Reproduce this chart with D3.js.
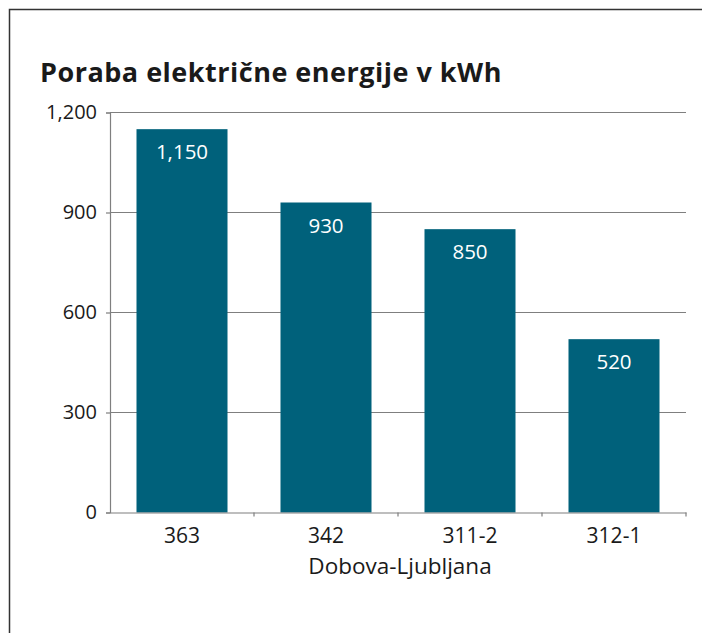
<!DOCTYPE html>
<html>
<head>
<meta charset="utf-8">
<script src="https://cdn.jsdelivr.net/npm/d3@7"></script>
<style>
  body { margin: 0; background: #fff; }
  svg text { font-family: "Open Sans", sans-serif; fill: #1a1a1a; }
</style>
</head>
<body>
<div id="chart"></div>
<script>
var categories = ["363", "342", "311-2", "312-1"];
var values = [1150, 930, 850, 520];
var yTicks = [0, 300, 600, 900, 1200];
var chartTitle = "Poraba električne energije v kWh";
var xTitle = "Dobova-Ljubljana";

var width = 702, height = 633;
var margin = { top: 112.5, right: 16, bottom: 120.5, left: 110 };

var svg = d3.select("#chart").append("svg")
    .attr("width", width)
    .attr("height", height);

// frame: only top and left edges show
svg.append("path")
    .attr("d", "M9.5," + height + "V9.5H" + width)
    .attr("fill", "none")
    .attr("stroke", "#333")
    .attr("stroke-width", 1.5);

var x = d3.scaleBand()
    .domain(categories)
    .range([margin.left, width - margin.right])
    .paddingInner(0.368)
    .paddingOuter(0.184);

var y = d3.scaleLinear()
    .domain([0, 1200])
    .range([height - margin.bottom, margin.top]);

var fmt = d3.format(",");

// gridlines
svg.append("g").selectAll("line")
    .data(yTicks.filter(function (d) { return d > 0; }))
    .enter().append("line")
    .attr("x1", margin.left)
    .attr("x2", width - margin.right)
    .attr("y1", function (d) { return y(d); })
    .attr("y2", function (d) { return y(d); })
    .attr("stroke", "#7f7f7f")
    .attr("stroke-width", 1.2);

// bars
svg.append("g").selectAll("rect")
    .data(values)
    .enter().append("rect")
    .attr("x", function (d, i) { return x(categories[i]); })
    .attr("y", function (d) { return y(d); })
    .attr("width", x.bandwidth())
    .attr("height", function (d) { return y(0) - y(d); })
    .attr("fill", "#00617b");

// value labels
svg.append("g").selectAll("text")
    .data(values)
    .enter().append("text")
    .attr("x", function (d, i) { return x(categories[i]) + x.bandwidth() / 2; })
    .attr("y", function (d) { return y(d) + 30; })
    .attr("text-anchor", "middle")
    .style("font-size", "20.5px")
    .style("fill", "#fff")
    .text(function (d) { return fmt(d); });

// y axis
var yAxis = svg.append("g")
    .attr("transform", "translate(" + margin.left + ",0)")
    .call(d3.axisLeft(y).tickValues(yTicks).tickFormat(fmt).tickSize(4).tickPadding(9));
yAxis.selectAll("text").style("font-size", "20px");

// x axis, ticks on the band edges
var xAxis = svg.append("g")
    .attr("transform", "translate(0," + y(0) + ")")
    .call(d3.axisBottom(x).tickSize(0).tickPadding(16));
xAxis.selectAll("text").style("font-size", "21px");
var edges = categories.map(function (c) { return x(c) - x.step() * x.paddingInner() / 2; });
edges.push(width - margin.right);
xAxis.selectAll(".edge").data(edges.slice(1))
    .enter().append("line")
    .attr("class", "edge")
    .attr("x1", function (d) { return d; })
    .attr("x2", function (d) { return d; })
    .attr("y1", 0)
    .attr("y2", 4);

svg.selectAll(".domain, .tick line, .edge")
    .attr("stroke", "#7f7f7f")
    .attr("stroke-width", 1.2);

// titles
svg.append("text")
    .attr("x", 40)
    .attr("y", 82)
    .style("font-size", "27px")
    .style("letter-spacing", "0.5px")
    .style("font-weight", "bold")
    .text(chartTitle);

svg.append("text")
    .attr("x", 400)
    .attr("y", 574)
    .attr("text-anchor", "middle")
    .style("font-size", "22.5px")
    .text(xTitle);
</script>
</body>
</html>
